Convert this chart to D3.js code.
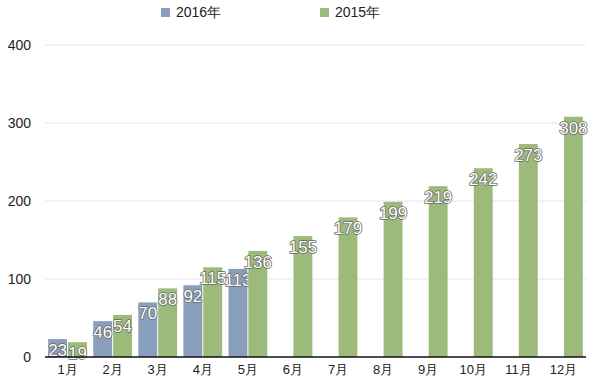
<!DOCTYPE html>
<html><head><meta charset="utf-8">
<script src="https://cdn.jsdelivr.net/npm/d3@7"></script>
<style>
body{margin:0;background:#fff;}
text{font-family:"Liberation Sans",Arial,sans-serif;}
</style></head>
<body><svg id="c" width="600" height="381"></svg>
<script>
const months = ["1月","2月","3月","4月","5月","6月","7月","8月","9月","10月","11月","12月"];
const s2016 = [23,46,70,92,113,null,null,null,null,null,null,null];
const s2015 = [19,54,88,115,136,155,179,199,219,242,273,308];
const seriesNames = ["2016年","2015年"];
const colors = ["#8a9fbc","#9cbb7b"];
const yTicks = [0,100,200,300,400];

const svg = d3.select("#c");
const m = {l:45, r:586, t:45, b:357};
const x = d3.scaleBand().domain(months).range([m.l, m.r]).paddingInner(0.14).paddingOuter(0.07);
const xs = d3.scaleBand().domain([0,1]).range([0, x.bandwidth()]).paddingInner(0.05);
const y = d3.scaleLinear().domain([0,400]).range([m.b, m.t]);

svg.append("g").selectAll("line").data(yTicks.filter(d=>d>0)).join("line")
  .attr("x1", m.l).attr("x2", m.r).attr("y1", d=>y(d)).attr("y2", d=>y(d))
  .attr("stroke","#e6e6e6").attr("stroke-width",1);
svg.append("g").selectAll("text").data(yTicks).join("text")
  .attr("x", 31).attr("y", d=>y(d)).attr("dy","0.35em").attr("text-anchor","end")
  .attr("font-size",14).attr("fill","#222").text(d=>d);

const data = [s2016, s2015];
data.forEach((vals, si) => {
  const g = svg.append("g");
  const items = months.map((mo,i)=>({mo, v: vals[i]})).filter(d=>d.v!=null);
  g.selectAll("rect").data(items).join("rect")
    .attr("x", d=>x(d.mo)+xs(si)).attr("width", xs.bandwidth())
    .attr("y", d=>y(d.v)).attr("height", d=>y(0)-y(d.v))
    .attr("fill", colors[si]);
  g.selectAll("text").data(items).join("text")
    .attr("x", d=>x(d.mo)+xs(si)+xs.bandwidth()/2)
    .attr("y", d=>y(d.v)+17)
    .attr("text-anchor","middle").attr("font-size",17)
    .attr("fill","#fff").attr("stroke","#666").attr("stroke-width",1.6)
    .attr("paint-order","stroke").attr("stroke-linejoin","round")
    .text(d=>d.v);
});

svg.append("line").attr("x1", m.l).attr("x2", m.r).attr("y1", y(0)).attr("y2", y(0))
  .attr("stroke","#111").attr("stroke-width",1.5);
svg.append("g").selectAll("text").data(months).join("text")
  .attr("x", d=>x(d)+x.bandwidth()/2).attr("y", 374).attr("text-anchor","middle")
  .attr("font-size",13).attr("fill","#222").text(d=>d);

const lx = [161, 320];
seriesNames.forEach((n,i)=>{
  svg.append("rect").attr("x", lx[i]).attr("y", 8).attr("width", 9).attr("height", 9).attr("fill", colors[i]);
  svg.append("text").attr("x", lx[i]+15).attr("y", 17).attr("font-size",14).attr("fill","#222").text(n);
});
</script></body></html>
